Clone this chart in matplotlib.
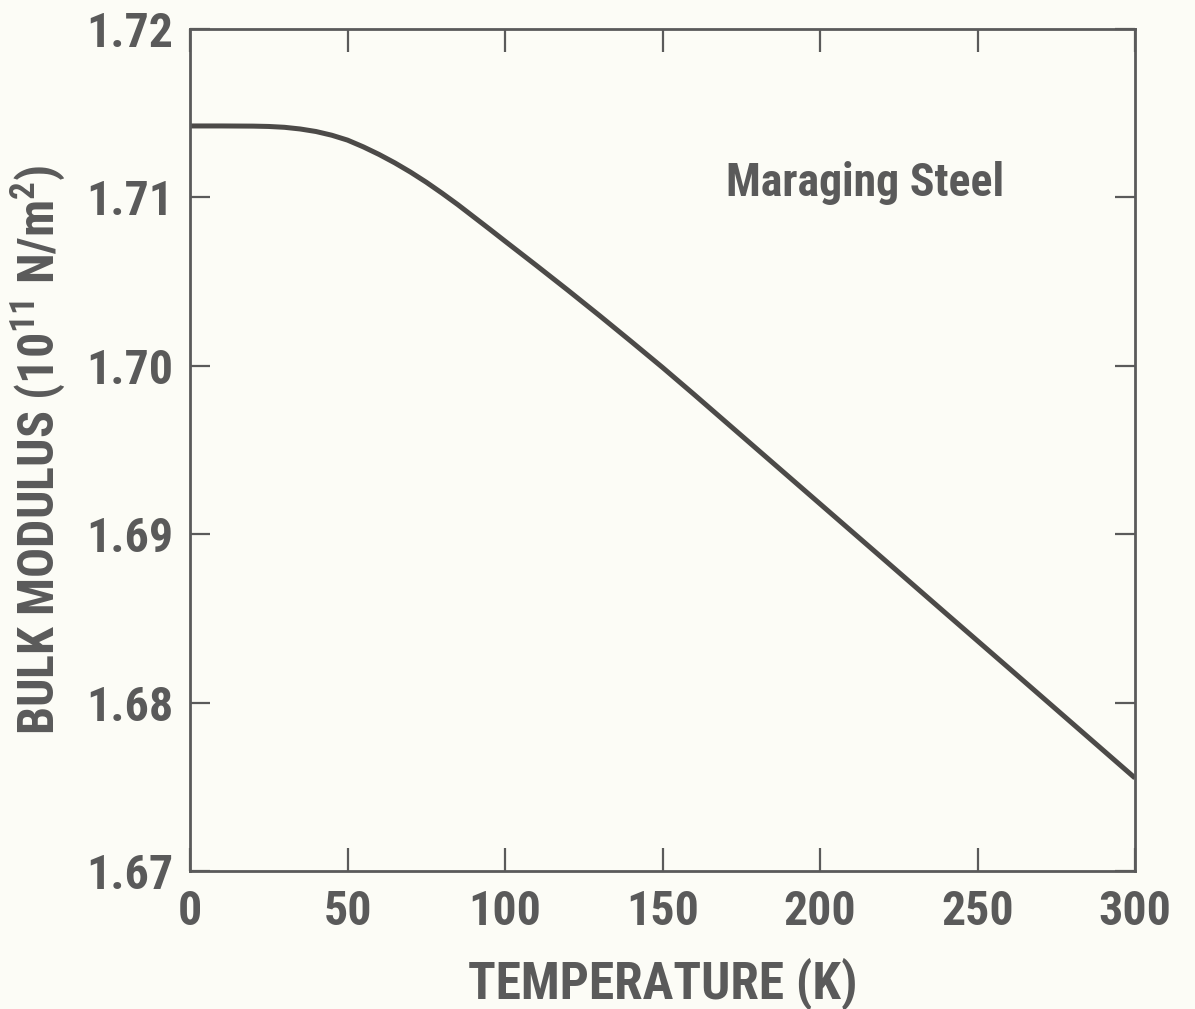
import matplotlib
matplotlib.use("Agg")
import matplotlib.pyplot as plt

# Bulk modulus of maraging steel versus temperature
temperature_k = [0, 10, 20, 25, 30, 35, 40, 45, 50, 55, 60, 65, 70, 75, 80, 85, 90, 95,
                 100, 110, 120, 130, 140, 150, 160, 180, 200, 220, 240, 260, 280, 300]
bulk_modulus = [1.71424, 1.71424, 1.71423, 1.71421, 1.71416, 1.71406, 1.71391, 1.71369,
                1.71340, 1.71300, 1.71255, 1.71205, 1.71150, 1.71090, 1.71025, 1.70957,
                1.70885, 1.70813, 1.70740, 1.70595, 1.70448, 1.70298, 1.70145, 1.69990,
                1.69830, 1.69505, 1.69180, 1.68855, 1.68529, 1.68204, 1.67878, 1.67552]

x_ticks = [0, 50, 100, 150, 200, 250, 300]
x_tick_labels = ["0", "50", "100", "150", "200", "250", "300"]
y_ticks = [1.67, 1.68, 1.69, 1.70, 1.71, 1.72]
y_tick_labels = ["1.67", "1.68", "1.69", "1.70", "1.71", "1.72"]
material = "Maraging Steel"
x_title = "TEMPERATURE (K)"
y_title = r"BULK MODULUS (10$^{11}$ N/m$^{2}$)"

paper = "#fcfcf6"
ink = "#5a5a5a"
curve_ink = "#4c4a48"
face = "Roboto Condensed"

plt.rcParams["font.family"] = [face, "DejaVu Sans"]
plt.rcParams["font.weight"] = "bold"
plt.rcParams["axes.labelweight"] = "bold"
plt.rcParams["mathtext.fontset"] = "custom"
plt.rcParams["mathtext.rm"] = face + ":bold"
plt.rcParams["mathtext.it"] = face + ":bold"
plt.rcParams["mathtext.bf"] = face + ":bold"
plt.rcParams["mathtext.default"] = "rm"

fig = plt.figure(figsize=(11.95, 10.09), dpi=100, facecolor=paper)
ax = fig.add_axes([0.159, 0.1368, 0.7908, 0.8345])
ax.set_facecolor(paper)

ax.plot(temperature_k, bulk_modulus, color=curve_ink, lw=3.6,
        solid_capstyle="butt", solid_joinstyle="round")

ax.set_xlim(0, 300)
ax.set_ylim(1.67, 1.72)
ax.set_xticks(x_ticks)
ax.set_xticklabels(x_tick_labels)
ax.set_yticks(y_ticks)
ax.set_yticklabels(y_tick_labels)

for side in ax.spines.values():
    side.set_color(ink)
    side.set_linewidth(2.0)

ax.tick_params(axis="both", which="major", direction="in", color=ink,
               width=1.6, labelsize=34.5, labelcolor=ink,
               top=True, right=True)
ax.tick_params(axis="x", length=16.5, pad=13)
ax.tick_params(axis="y", length=14.5, pad=12)

ax.set_xlabel(x_title, fontsize=37, color=ink, labelpad=16)
ax.set_ylabel(y_title, fontsize=36, color=ink, labelpad=14)

ax.text(170, 1.7101, material, fontsize=33, color=ink,
        ha="left", va="baseline")

fig.savefig("out.png", dpi=100, facecolor=paper)
